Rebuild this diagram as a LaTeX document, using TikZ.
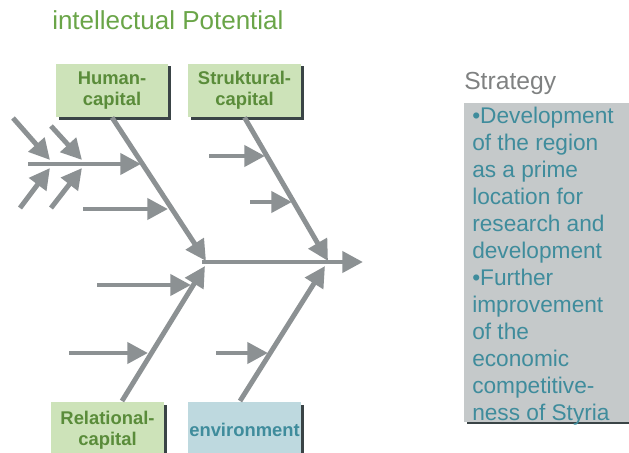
\documentclass[tikz,border=0pt]{standalone}
\usepackage{fontspec}
\setmainfont{Liberation Sans}
\usetikzlibrary{arrows.meta,positioning,shadows}
\definecolor{boneGray}{HTML}{8C9193}
\definecolor{titleGreen}{HTML}{6AA548}
\definecolor{capGreen}{HTML}{5A8C3A}
\definecolor{capFill}{HTML}{CDE3B9}
\definecolor{envFill}{HTML}{BED9DF}
\definecolor{envTeal}{HTML}{3F8C9C}
\definecolor{stratFill}{HTML}{C5C9CA}
\definecolor{stratGray}{HTML}{7F8181}
\definecolor{shadowDark}{HTML}{3A4446}

\tikzset{
  capbox/.style={rectangle,fill=capFill,text=capGreen,align=center,inner sep=0pt,
    minimum width=84.5pt,minimum height=40pt,
    font=\bfseries\fontsize{13.8}{15.8}\selectfont,
    drop shadow={shadow xshift=2.2pt,shadow yshift=-1.8pt,fill=shadowDark,opacity=1}},
  bone/.style={boneGray,line width=3.7pt,-{Triangle[length=15.5pt,width=15.5pt]}},
  branch/.style={bone}
}

\begin{document}
\begin{tikzpicture}[x=0.75pt,y=-0.75pt]
\useasboundingbox (0,0) rectangle (629,453);

% heading
\node[anchor=west,inner sep=0pt,text=titleGreen,font=\fontsize{19.5}{22}\selectfont] (title) at (52,20) {intellectual Potential};

% the four capitals
\node[capbox] (human) at (112,90.5) {Human-\\capital};
\node[capbox] (struk) at (244.5,90.5) {Struktural-\\capital};
\node[capbox,minimum height=41.5pt] (relat) at (107.5,430) {Relational-\\capital};
\node[capbox,minimum height=41.5pt,fill=envFill,text=envTeal] (envir) at (244.5,430) {environment};

% spine
\coordinate (spineL) at (202,262);
\coordinate (spineR) at (363,262);
\draw[bone] (spineL) -- (spineR);

% main bones
\coordinate (hm) at (206,261);
\coordinate (sm) at (328,261);
\coordinate (relTop) at (122,401);
\coordinate (rm) at (205,266);
\coordinate (envTop) at (240,401);
\coordinate (em) at (325,266);
\draw[bone] (human.south) -- (hm);
\draw[bone] (struk.south) -- (sm);
\draw[bone] (relTop) -- (rm);
\draw[bone] (envTop) -- (em);

% causes
\foreach \n/\xa/\xb/\yy in {h1/28/141/164, h2/83/168/209, s1/209/265/156, s2/250/292/202,
                            r1/97/191/285, r2/69/148/353, e1/216/268/353}
{
  \coordinate (\n a) at (\xa,\yy);
  \coordinate (\n b) at (\xb,\yy);
  \draw[branch] (\n a) -- (\n b);
}

% sub-causes
\foreach \n/\xa/\ya/\xb/\yb in {u1/13/118/50/160, u2/20/208/50/168, u3/51/126/82/160, u4/51/208/82/168}
{
  \coordinate (\n a) at (\xa,\ya);
  \coordinate (\n b) at (\xb,\yb);
  \draw[branch] (\n a) -- (\n b);
}

% strategy
\node[anchor=base west,inner sep=0pt,text=stratGray,font=\fontsize{18.5}{22}\selectfont] (strathead) at (464,90) {Strategy};
\node[anchor=north west,inner sep=0pt,fill=stratFill,minimum width=135pt,minimum height=239.3pt,
  drop shadow={shadow xshift=2.2pt,shadow yshift=-1.5pt,fill=shadowDark,opacity=1}] (stratbox) at (464,103) {};
\node[anchor=north west,inner sep=0pt,align=left,text=envTeal,font=\fontsize{17}{20.3}\selectfont] (strattext) at (472,106.5)
{•Development\\of the region\\as a prime\\location for\\research and\\development\\•Further\\improvement\\of the\\economic\\competitive-\\ness of Styria};
\end{tikzpicture}
\end{document}
